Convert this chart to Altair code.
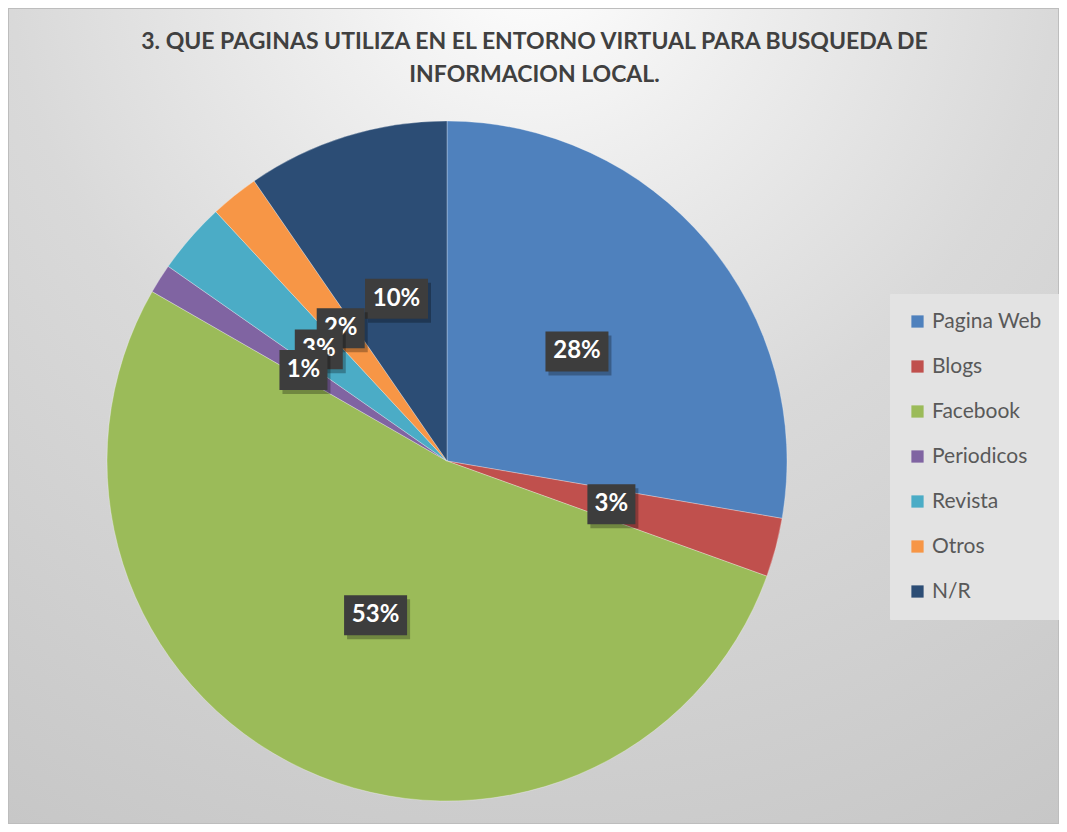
import altair as alt
import pandas as pd

# ---- data ----
categories = ["Pagina Web", "Blogs", "Facebook", "Periodicos", "Revista", "Otros", "N/R"]
values = [27.7, 2.8, 52.8, 1.4, 3.4, 2.3, 9.6]
colors = ["#4f81bd", "#c0504d", "#9bbb59", "#8064a2", "#4bacc6", "#f79646", "#2c4d75"]
title_lines = ["3. QUE PAGINAS UTILIZA EN EL ENTORNO VIRTUAL PARA BUSQUEDA DE",
               "INFORMACION LOCAL."]

W, H = 1051, 816
CX, CY, R = 439, 453, 340
LR = R / 2

df = pd.DataFrame({"cat": categories, "value": values, "order": list(range(len(categories)))})
total = sum(values)

base = alt.Chart(df)

bg = alt.Chart(alt.Data(values=[{"a": 1}])).mark_rect(
    fill=alt.Gradient(
        gradient="radial",
        stops=[alt.GradientStop(color="#ffffff", offset=0),
               alt.GradientStop(color="#efefef", offset=0.2),
               alt.GradientStop(color="#d9d9d9", offset=0.5),
               alt.GradientStop(color="#c6c6c6", offset=1)],
        x1=0.5, y1=0.05, x2=0.5, y2=0.05, r1=0, r2=1.0),
    stroke="#bdbdbd", strokeWidth=2,
).encode(x=alt.value(0), x2=alt.value(W), y=alt.value(0), y2=alt.value(H))

pie = base.mark_arc(outerRadius=R, stroke="#ffffff", strokeWidth=0.3).encode(
    theta=alt.Theta("value:Q", stack=True),
    order=alt.Order("order:Q"),
    color=alt.Color(
        "cat:N",
        scale=alt.Scale(domain=categories, range=colors),
        sort=categories,
        legend=alt.Legend(
            title=None, orient="none", legendX=882, legendY=286,
            symbolType="square", symbolSize=150, symbolStrokeWidth=0,
            labelFont="Lato", labelFontSize=21, labelColor="#595959",
            labelOffset=4, rowPadding=23, padding=17,
            fillColor="#e3e3e3", strokeColor="#e3e3e3",
        ),
    ),
    x=alt.value(CX), y=alt.value(CY),
)

pos = base.transform_window(
    cum="sum(value)", sort=[alt.SortField("order")], frame=[None, 0]
).transform_calculate(
    mid=f"2*PI*(datum.cum - datum.value/2)/{total}",
    px=f"{CX} + {LR}*sin(datum.mid)",
    py=f"{CY} - {LR}*cos(datum.mid)",
    label=f"format(datum.value/{total}, '.0%')",
)

enc = dict(x=alt.X("px:Q", scale=None, axis=None), y=alt.Y("py:Q", scale=None, axis=None))

label_layers = []
for cat, v in reversed(list(zip(categories, values))):
    n = len(str(round(v / total * 100))) + 1
    if n >= 3:
        path, size = "M-1,-0.635L1,-0.635L1,0.635L-1,0.635Z", 63 ** 2
    else:
        path, size = "M-1,-0.833L1,-0.833L1,0.833L-1,0.833Z", 48 ** 2
    sel = pos.transform_filter(alt.datum.cat == cat)
    label_layers.append(sel.mark_point(shape=path, size=size, filled=True, fill="#000000",
                                       opacity=0.28, strokeWidth=0, xOffset=3, yOffset=4).encode(**enc))
    label_layers.append(sel.mark_point(shape=path, size=size, filled=True, fill="#3d3d3d",
                                       opacity=1, strokeWidth=0).encode(**enc))
    label_layers.append(sel.mark_text(font="Lato", fontWeight="bold", fontSize=24,
                                      color="#ffffff", baseline="middle", align="center").encode(
        text="label:N", **enc))

title = alt.Chart(alt.Data(values=[{"a": 1}])).mark_text(
    text=title_lines, font="Lato", fontWeight="bold", fontSize=23, color="#404040",
    align="center", baseline="middle", lineHeight=33,
).encode(x=alt.value(W / 2 + 1), y=alt.value(34))

chart = alt.layer(bg, pie, *label_layers, title).properties(
    width=W, height=H, autosize=alt.AutoSizeParams(type="none"), padding=0,
).configure_view(stroke=None)

chart.save("out.html", embed_options={"renderer": "svg", "actions": False})
